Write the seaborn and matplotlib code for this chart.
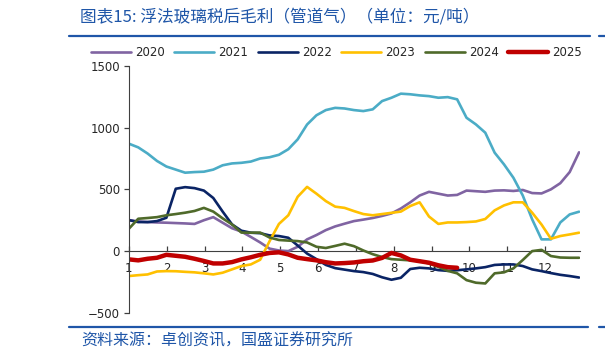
import numpy as np
import pandas as pd
import matplotlib
matplotlib.use("Agg")
import matplotlib.pyplot as plt
import seaborn as sns

# asse x: mesi (circa una rilevazione a settimana)
months = np.linspace(1, 12.9, 49)
month_ticks = list(range(1, 13))

y2020 = [251, 240, 235, 232, 230, 227, 224, 220, 250, 275, 230, 185, 158, 115, 70, 20,
         5, 0, 35, 95, 130, 170, 200, 222, 243, 255, 268, 285, 305, 345, 395, 450,
         480, 465, 450, 455, 490, 485, 480, 490, 492, 487, 495, 470, 467, 500, 550, 640, 800]
y2021 = [870, 840, 790, 730, 685, 660, 635, 640, 643, 660, 695, 710, 715, 725, 750, 760,
         780, 825, 905, 1025, 1100, 1142, 1160, 1155, 1142, 1134, 1148, 1215, 1242, 1275, 1270, 1261,
         1255, 1242, 1247, 1229, 1080, 1026, 959, 797, 702, 594, 450, 257, 95, 95, 232, 297, 319]
y2022 = [251, 235, 235, 243, 270, 505, 518, 510, 490, 430, 320, 216, 165, 149, 145, 127,
         122, 108, 45, -20, -65, -112, -138, -150, -162, -170, -185, -212, -232, -216, -145, -135,
         -140, -154, -160, -155, -148, -140, -130, -112, -108, -108, -121, -148, -162, -178, -192, -202, -214]
y2023 = [-202, -195, -189, -165, -162, -163, -168, -172, -180, -189, -175, -148, -121, -108, -70, 80,
         220, 290, 440, 520, 465, 405, 360, 350, 324, 300, 290, 300, 310, 320, 365, 395,
         280, 220, 232, 232, 235, 240, 260, 330, 370, 395, 395, 311, 215, 100, 122, 135, 149]
y2024 = [181, 262, 268, 275, 290, 300, 311, 325, 350, 320, 265, 216, 150, 149, 150, 110,
         90, 85, 81, 70, 35, 25, 42, 60, 40, 5, -25, -48, -65, -70, -75, -80,
         -100, -128, -160, -180, -235, -256, -262, -180, -172, -140, -72, 0, 10, -40, -52, -54, -54]
y2025 = [-67, -75, -62, -54, -30, -38, -46, -62, -80, -100, -100, -89, -67, -50, -30, -15,
         -10, -27, -54, -65, -75, -90, -100, -97, -92, -82, -76, -55, -15, -35, -70, -82,
         -94, -115, -130, -135]

series = {"2020": y2020, "2021": y2021, "2022": y2022,
          "2023": y2023, "2024": y2024, "2025": y2025}
colori = {"2020": "#8064A2", "2021": "#4BACC6", "2022": "#0A2465",
          "2023": "#FFC000", "2024": "#4F6A2A", "2025": "#C00000"}

sns.set_style("white")
plt.rcParams["font.family"] = ["DejaVu Sans", "Noto Sans CJK SC"]

fig = plt.figure(figsize=(6.05, 3.6), dpi=100)
ax = fig.add_axes([0.213, 0.131, 0.746, 0.686])

for anno, valori in series.items():
    lw = 3.2 if anno == "2025" else 1.9
    sns.lineplot(x=months[:len(valori)], y=valori, color=colori[anno], linewidth=lw,
                 label=anno, ax=ax, legend=False)

ax.set_xlim(1, 12.93)
ax.set_ylim(-500, 1500)
ax.set_yticks([-500, 0, 500, 1000, 1500])
ax.set_xticks(month_ticks)
ax.set_xticklabels([str(m) for m in month_ticks])

for s in ["top", "right"]:
    ax.spines[s].set_visible(False)
ax.spines["bottom"].set_position(("data", 0))
ax.spines["left"].set_position(("data", 1))
ax.spines["bottom"].set_color("#404040")
ax.spines["left"].set_color("#404040")
ax.spines["bottom"].set_zorder(0)
ax.tick_params(axis="y", direction="out", length=3.5, width=0.9, color="#404040",
               labelsize=8.5, pad=3, left=True)
ax.tick_params(axis="x", direction="in", length=3.5, width=0.9, color="#404040",
               labelsize=8.5, pad=8, bottom=True)
ax.set_xlabel("")
ax.set_ylabel("")

handles, labels = ax.get_legend_handles_labels()
fig.legend(handles, labels, loc="center", bbox_to_anchor=(0.556, 0.853), ncol=6,
           frameon=False, fontsize=8.5, handlelength=3.4, handletextpad=0.35,
           columnspacing=0.8)

blu = "#1F56A8"
fig.text(0.132, 0.953, "图表15: 浮法玻璃税后毛利（管道气）（单位：元/吨）", color=blu,
         fontsize=12, va="center", ha="left", style="italic",
         family=["Noto Sans CJK SC", "DejaVu Sans"])
fig.text(0.135, 0.053, "资料来源：卓创资讯，国盛证券研究所", color=blu,
         fontsize=11.5, va="center", ha="left", style="italic",
         family=["Noto Sans CJK SC", "DejaVu Sans"])
fig.add_artist(plt.Line2D([0.114, 0.976], [0.9, 0.9], color=blu, lw=1.6))
fig.add_artist(plt.Line2D([0.99, 1.0], [0.9, 0.9], color=blu, lw=1.6))
fig.add_artist(plt.Line2D([0.114, 0.972], [0.092, 0.092], color=blu, lw=1.6))
fig.add_artist(plt.Line2D([0.99, 1.0], [0.092, 0.092], color=blu, lw=1.6))

fig.savefig("out.png", dpi=100)
